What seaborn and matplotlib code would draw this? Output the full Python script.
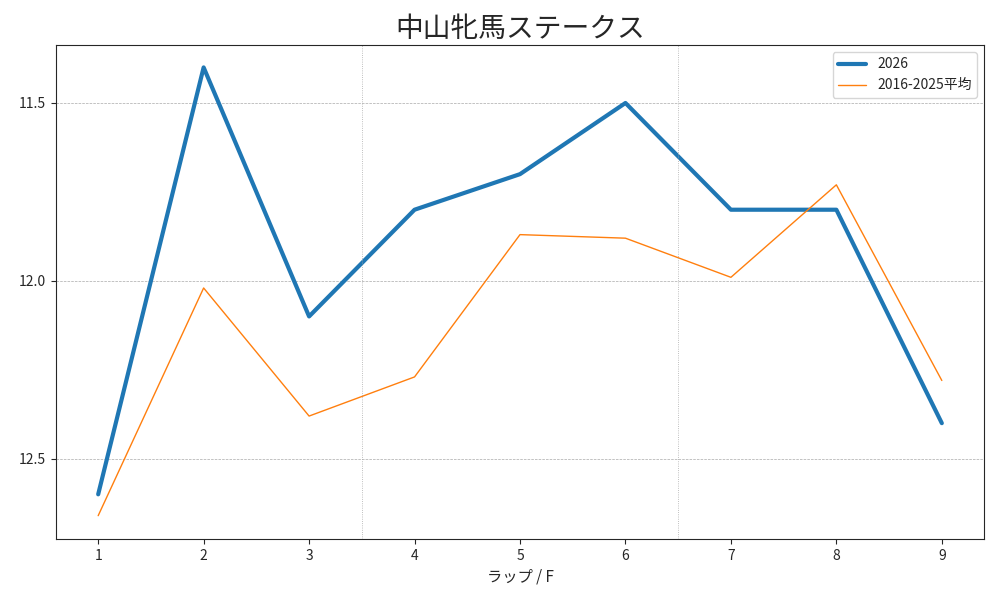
import matplotlib
matplotlib.use("Agg")
import matplotlib.pyplot as plt
import seaborn as sns
import pandas as pd

laps = [1, 2, 3, 4, 5, 6, 7, 8, 9]
y2026 = [12.6, 11.4, 12.1, 11.8, 11.7, 11.5, 11.8, 11.8, 12.4]
yavg = [12.66, 12.02, 12.38, 12.27, 11.87, 11.88, 11.99, 11.73, 12.28]
yticks = [11.5, 12.0, 12.5]

sns.set_style("ticks")
plt.rcParams['font.family'] = ['Noto Sans CJK JP', 'DejaVu Sans']

fig, ax = plt.subplots(figsize=(10, 6), dpi=100)
df = pd.DataFrame({"lap": laps, "a": y2026, "b": yavg})
sns.lineplot(data=df, x="lap", y="a", ax=ax, color="#1f77b4", linewidth=3, label="2026")
sns.lineplot(data=df, x="lap", y="b", ax=ax, color="#ff7f0e", linewidth=1, label="2016-2025平均")
ax.set_ylim(12.725, 11.337)
ax.set_xlim(0.6, 9.4)
ax.set_xticks(laps)
ax.set_yticks(yticks)
ax.set_yticklabels(["11.5", "12.0", "12.5"])
ax.grid(axis="y", linestyle="--", linewidth=0.5, color="#aaaaaa")
for xv in [3.5, 6.5]:
    ax.axvline(xv, linestyle=":", linewidth=0.6, color="#aaaaaa")
ax.set_xlabel("ラップ / F", fontsize=11)
ax.set_ylabel("")
ax.set_title("中山牝馬ステークス", fontsize=20)
ax.legend(loc="upper right")
fig.subplots_adjust(left=0.056, right=0.984, top=0.925, bottom=0.102)
fig.savefig("out.png")
